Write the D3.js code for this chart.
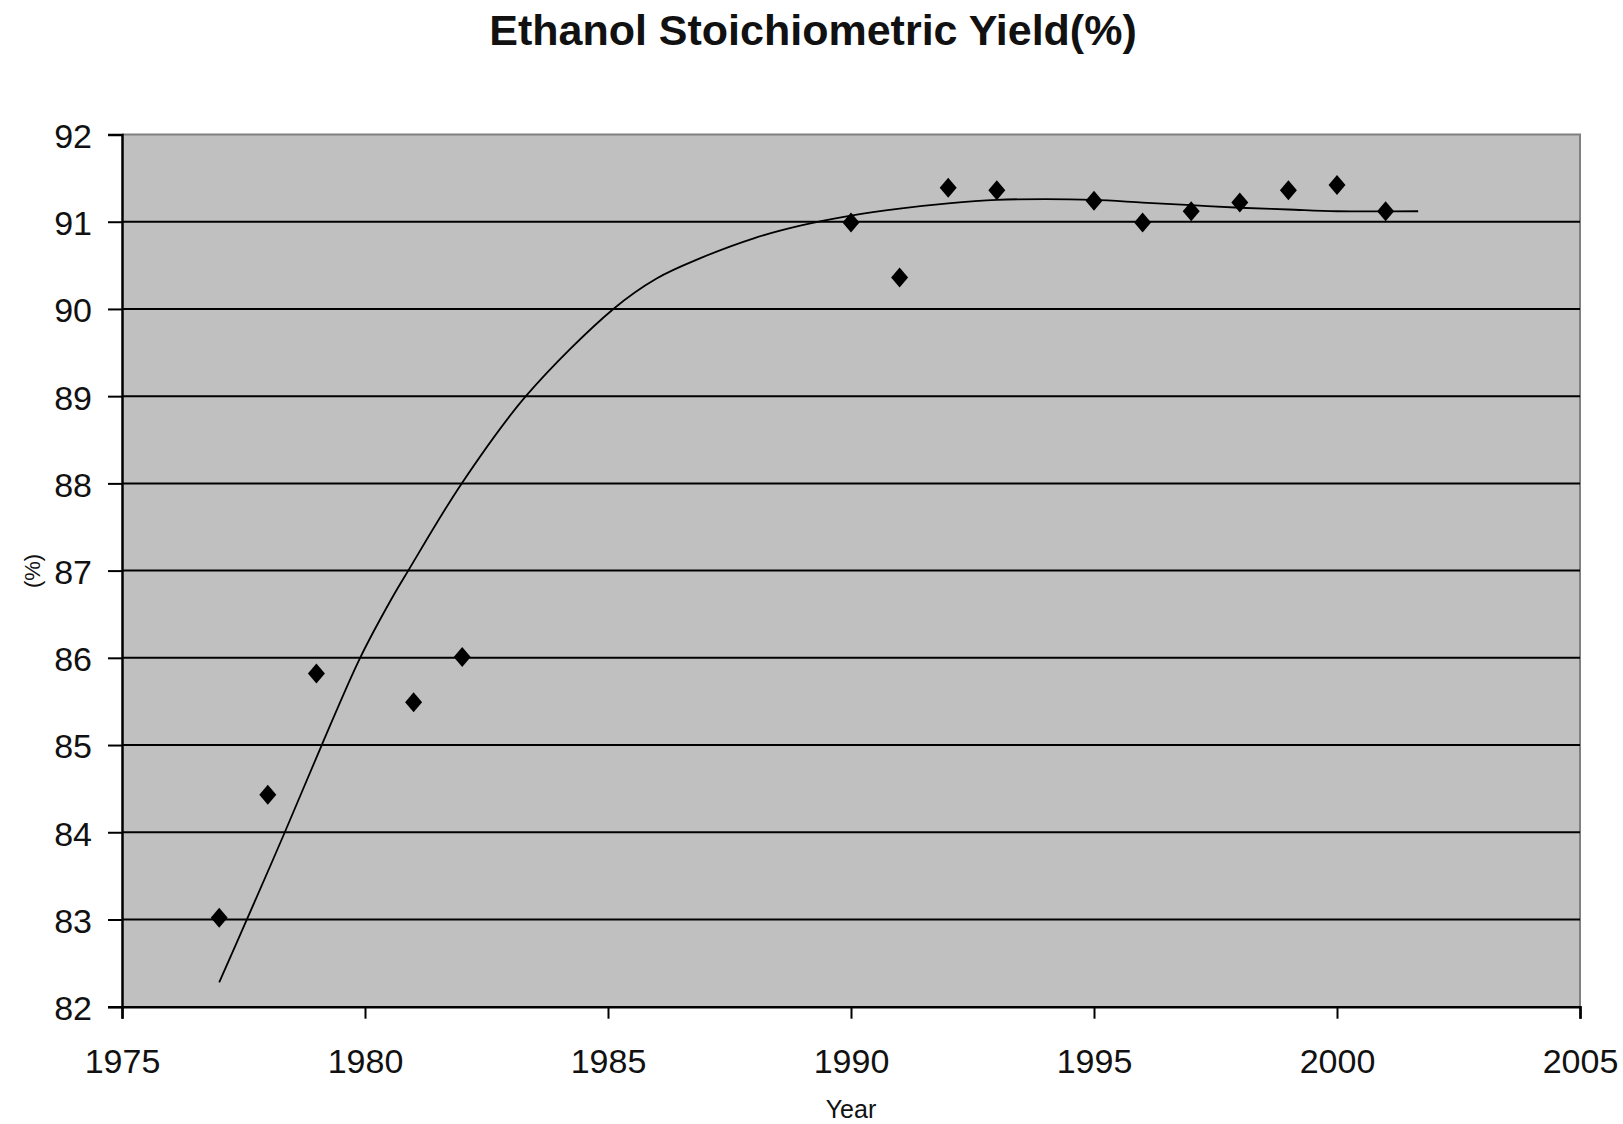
<!DOCTYPE html>
<html>
<head>
<meta charset="utf-8">
<script src="https://cdn.jsdelivr.net/npm/d3@7"></script>
<style>
  html, body { margin: 0; padding: 0; background: #fff; }
  svg { display: block; }
  text { font-family: "Liberation Sans", Arial, sans-serif; fill: #111; }
</style>
</head>
<body>
<svg id="chart" width="1623" height="1124"></svg>
<script>
// ---- data ----
const years  = [1977, 1978, 1979, 1981, 1982, 1990, 1991, 1992, 1993, 1995, 1996, 1997, 1998, 1999, 2000, 2001];
const yields = [83.02, 84.43, 85.82, 85.49, 86.01, 90.99, 90.36, 91.39, 91.36, 91.24, 90.99, 91.12, 91.22, 91.36, 91.42, 91.12];

// trendline
const trendYears  = [1977.0, 1977.57, 1978.35, 1979.11, 1979.9, 1980.55, 1980.89, 1981.99, 1983.31, 1985.11, 1986.0, 1986.89, 1988, 1989, 1990, 1991, 1992, 1993, 1994, 1995, 1996, 1997, 1998, 1999, 2000, 2001.67];
const trendValues = [82.28, 83.0, 84.0, 85.0, 86.0, 86.68, 87.0, 88.0, 89.0, 90.0, 90.35, 90.58, 90.81, 90.96, 91.07, 91.15, 91.21, 91.25, 91.26, 91.25, 91.22, 91.19, 91.16, 91.14, 91.12, 91.12];

const xTicks = [1975, 1980, 1985, 1990, 1995, 2000, 2005];
const yTicks = [82, 83, 84, 85, 86, 87, 88, 89, 90, 91, 92];

const title = "Ethanol Stoichiometric Yield(%)";
const xLabel = "Year";
const yLabel = "(%)";

// ---- layout ----
const svg = d3.select("#chart");
const L = 122, R = 1580, T = 134.5, B = 1006.7;

const x = d3.scaleLinear().domain([1975, 2005]).range([L, R]);
const y = d3.scaleLinear().domain([82, 92]).range([B, T]);

// plot background
svg.append("rect").attr("x", L).attr("y", T).attr("width", R - L).attr("height", B - T)
  .attr("fill", "#c0c0c0");

// top and right border (gray)
svg.append("path")
  .attr("d", `M${L},${T}H${R}V${B}`)
  .attr("fill", "none").attr("stroke", "#808080").attr("stroke-width", 2);

// gridlines
svg.append("g").selectAll("line").data(yTicks.filter(d => d > 82 && d < 92)).join("line")
  .attr("x1", L).attr("x2", R)
  .attr("y1", d => y(d)).attr("y2", d => y(d))
  .attr("stroke", "#000").attr("stroke-width", 2);

// y axis
const yAxis = svg.append("g").attr("transform", `translate(${L},0)`)
  .call(d3.axisLeft(y).tickValues(yTicks).tickSize(14).tickPadding(16).tickFormat(d3.format("d")));
yAxis.select(".domain").attr("stroke", "#000").attr("stroke-width", 2.5);
yAxis.selectAll(".tick line").attr("stroke", "#000").attr("stroke-width", 2);
yAxis.selectAll(".tick text").attr("font-size", 34).attr("fill", "#111")
  .attr("font-family", "Liberation Sans, Arial, sans-serif").attr("dy", "0.38em");

// x axis
const xAxis = svg.append("g").attr("transform", `translate(0,${B})`)
  .call(d3.axisBottom(x).tickValues(xTicks).tickSize(12).tickPadding(30).tickFormat(d3.format("d")));
xAxis.select(".domain").attr("stroke", "#000").attr("stroke-width", 2.5);
xAxis.selectAll(".tick line").attr("stroke", "#000").attr("stroke-width", 2);
xAxis.selectAll(".tick text").attr("font-size", 34).attr("fill", "#111")
  .attr("font-family", "Liberation Sans, Arial, sans-serif");

// trendline
const line = d3.line().x(d => x(d[0])).y(d => y(d[1])).curve(d3.curveCatmullRom.alpha(0.5));
svg.append("path")
  .datum(trendYears.map((d, i) => [d, trendValues[i]]))
  .attr("d", line)
  .attr("fill", "none").attr("stroke", "#000").attr("stroke-width", 1.8);

// diamond markers
const hw = 8.5, hh = 10;
svg.append("g").selectAll("path").data(years.map((d, i) => [d, yields[i]])).join("path")
  .attr("transform", d => `translate(${x(d[0])},${y(d[1])})`)
  .attr("d", `M0,${-hh}L${hw},0L0,${hh}L${-hw},0Z`)
  .attr("fill", "#000");

// title
svg.append("text").attr("x", 813).attr("y", 45).attr("text-anchor", "middle")
  .attr("font-size", 43).attr("font-weight", "bold").text(title);

// axis labels
svg.append("text").attr("x", 851).attr("y", 1118).attr("text-anchor", "middle")
  .attr("font-size", 25).text(xLabel);
svg.append("text").attr("transform", "translate(40,571) rotate(-90)").attr("text-anchor", "middle")
  .attr("font-size", 22).text(yLabel);
</script>
</body>
</html>
